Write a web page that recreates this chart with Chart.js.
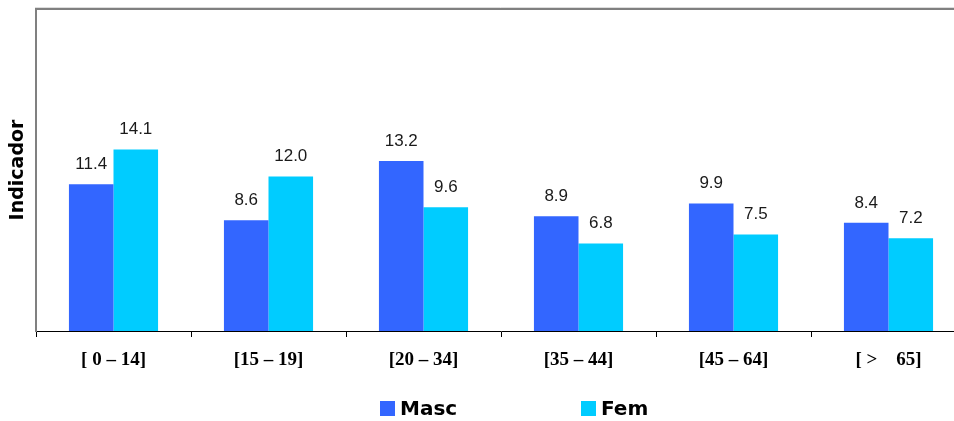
<!DOCTYPE html>
<html>
<head>
<meta charset="utf-8">
<script src="https://cdn.jsdelivr.net/npm/chart.js@4/dist/chart.umd.min.js"></script>
<style>
html,body{margin:0;padding:0;background:#fff;overflow:hidden;}
#wrap{position:relative;width:966px;height:421px;}
</style>
</head>
<body>
<div id="wrap"><canvas id="c"></canvas></div>
<script>
const categories = ['[ 0 – 14]', '[15 – 19]', '[20 – 34]', '[35 – 44]', '[45 – 64]', '[ >    65]'];
const masc = [11.4, 8.6, 13.2, 8.9, 9.9, 8.4];
const fem = [14.1, 12.0, 9.6, 6.8, 7.5, 7.2];
const seriesNames = ['Masc', 'Fem'];
const seriesColors = ['#3366FF', '#00CCFF'];

const valueLabels = {
  id: 'valueLabels',
  afterDatasetsDraw(chart) {
    const ctx = chart.ctx;
    ctx.save();
    ctx.font = '17px "Liberation Sans", Arial, sans-serif';
    ctx.fillStyle = '#1a1a1a';
    ctx.textAlign = 'center';
    ctx.textBaseline = 'alphabetic';
    chart.data.datasets.forEach((ds, i) => {
      chart.getDatasetMeta(i).data.forEach((bar, j) => {
        ctx.fillText(ds.data[j].toFixed(1), bar.x, bar.y - 15);
      });
    });
    ctx.restore();
  }
};

const frame = {
  id: 'frame',
  afterDraw(chart) {
    const ctx = chart.ctx, a = chart.chartArea;
    ctx.save();
    ctx.strokeStyle = '#dddddd';
    ctx.lineWidth = 1;
    ctx.beginPath(); ctx.moveTo(a.left - 1, a.top - 1.5); ctx.lineTo(chart.width, a.top - 1.5); ctx.stroke();
    ctx.strokeStyle = '#808080';
    ctx.lineWidth = 2;
    ctx.beginPath(); ctx.moveTo(a.left - 1, a.top); ctx.lineTo(chart.width, a.top); ctx.stroke();
    ctx.restore();
  }
};

const customLegend = {
  id: 'customLegend',
  afterDraw(chart) {
    const ctx = chart.ctx;
    const starts = [380, 581];
    ctx.save();
    ctx.font = 'bold 20px "DejaVu Sans", Verdana, sans-serif';
    ctx.textBaseline = 'alphabetic';
    ctx.textAlign = 'left';
    chart.data.datasets.forEach((ds, i) => {
      const x = starts[i];
      ctx.fillStyle = ds.backgroundColor;
      ctx.fillRect(x, 401, 15, 15);
      ctx.fillStyle = '#000';
      ctx.fillText(ds.label, x + 20, 415);
    });
    ctx.restore();
  }
};

new Chart(document.getElementById('c'), {
  type: 'bar',
  data: {
    labels: categories,
    datasets: [
      { label: seriesNames[0], data: masc, backgroundColor: seriesColors[0] },
      { label: seriesNames[1], data: fem, backgroundColor: seriesColors[1] }
    ]
  },
  options: {
    responsive: true,
    maintainAspectRatio: false,
    animation: false,
    layout: { padding: { top: 9, right: 0, bottom: 0, left: 0 } },
    plugins: { legend: { display: false }, tooltip: { enabled: false } },
    datasets: { bar: { categoryPercentage: 0.575, barPercentage: 1 } },
    scales: {
      x: {
        afterFit(s) { s.height = 90; },
        grid: { display: true, drawOnChartArea: false, offset: true, tickLength: 6, color: '#000', lineWidth: 1 },
        border: { display: true, color: '#000', width: 1 },
        ticks: {
          color: '#000',
          padding: 12,
          font: { family: '"Liberation Serif", "Times New Roman", serif', weight: 'bold', size: 19 }
        }
      },
      y: {
        min: 0, max: 25,
        afterFit(s) { s.width = 36; },
        grid: { display: false },
        border: { display: true, color: '#808080', width: 2 },
        ticks: { display: false },
        title: {
          display: true,
          text: 'Indicador',
          color: '#000',
          padding: { top: 7, bottom: 0 },
          font: { family: '"DejaVu Sans", Verdana, sans-serif', weight: 'bold', size: 19 }
        }
      }
    }
  },
  plugins: [valueLabels, frame, customLegend]
});
</script>
</body>
</html>
